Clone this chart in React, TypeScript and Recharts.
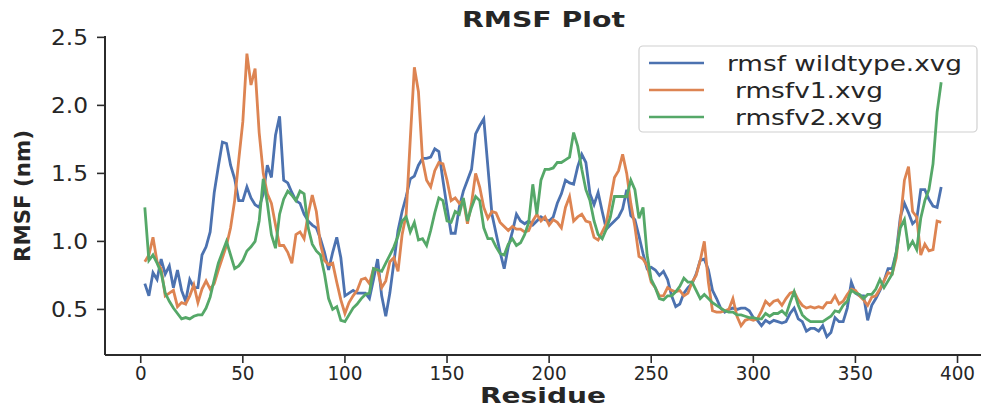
import React from "react";
import { LineChart, Line, XAxis, YAxis, Customized } from "recharts";

// Residue numbers (x categories), every second residue from 2 to 392
const RESIDUES: number[] = Array.from({ length: 196 }, (_, i) => 2 + 2 * i);

const WILDTYPE: number[] = [
  0.69, 0.60, 0.77, 0.72, 0.87, 0.76, 0.82, 0.66, 0.79, 0.64,
  0.56, 0.72, 0.66, 0.66, 0.90, 0.96, 1.07, 1.36, 1.55, 1.73,
  1.72, 1.56, 1.46, 1.30, 1.30, 1.40, 1.32, 1.27, 1.25, 1.35,
  1.56, 1.47, 1.78, 1.92, 1.45, 1.43, 1.36, 1.30, 1.28, 1.20,
  1.15, 1.12, 1.10, 1.02, 0.92, 0.79, 0.92, 1.03, 0.88, 0.60,
  0.62, 0.64, 0.62, 0.62, 0.62, 0.58, 0.72, 0.87, 0.60, 0.45,
  0.62, 0.85, 1.08, 1.22, 1.33, 1.46, 1.48, 1.56, 1.61, 1.61,
  1.62, 1.68, 1.66, 1.45, 1.25, 1.06, 1.06, 1.25, 1.37, 1.45,
  1.53, 1.79, 1.85, 1.90, 1.55, 1.20, 1.06, 0.92, 0.80, 0.96,
  1.07, 1.20, 1.15, 1.13, 1.15, 1.12, 1.15, 1.18, 1.16, 1.15,
  1.18, 1.28, 1.35, 1.45, 1.43, 1.42, 1.55, 1.64, 1.58, 1.35,
  1.27, 1.36, 1.22, 1.09, 1.12, 1.15, 1.18, 1.24, 1.38, 1.19,
  1.16, 1.04, 0.91, 0.80, 0.81, 0.79, 0.75, 0.78, 0.72, 0.60,
  0.52, 0.54, 0.62, 0.66, 0.69, 0.76, 0.86, 0.87, 0.79, 0.64,
  0.58, 0.51, 0.48, 0.50, 0.51, 0.50, 0.51, 0.51, 0.49, 0.44,
  0.42, 0.38, 0.42, 0.40, 0.42, 0.41, 0.40, 0.41, 0.47, 0.51,
  0.43, 0.41, 0.34, 0.36, 0.36, 0.34, 0.38, 0.30, 0.33, 0.44,
  0.41, 0.41, 0.51, 0.70, 0.62, 0.60, 0.60, 0.42, 0.53, 0.58,
  0.64, 0.71, 0.80, 0.80, 0.92, 1.18, 1.28, 1.21, 1.13, 1.16,
  1.38, 1.38, 1.31, 1.26, 1.25, 1.40,
];

const V1: number[] = [
  0.85, 0.90, 1.03, 0.85, 0.80, 0.60, 0.62, 0.64, 0.52, 0.55,
  0.54, 0.60, 0.68, 0.55, 0.65, 0.71, 0.65, 0.69, 0.79, 0.88,
  0.97, 1.10, 1.30, 1.60, 1.88, 2.38, 2.15, 2.27, 1.80, 1.50,
  1.35, 1.28, 1.12, 0.97, 0.97, 0.92, 0.84, 1.05, 1.07, 1.02,
  1.20, 1.34, 1.22, 0.98, 0.86, 0.83, 0.84, 0.70, 0.57, 0.47,
  0.55, 0.60, 0.64, 0.72, 0.73, 0.69, 0.80, 0.79, 0.66, 0.71,
  0.85, 0.88, 0.78, 1.05, 1.20, 1.75, 2.28, 2.10, 1.60, 1.45,
  1.40, 1.52, 1.58, 1.57, 1.45, 1.30, 1.32, 1.28, 1.30, 1.13,
  1.28, 1.50, 1.40, 1.25, 1.17, 1.22, 1.21, 1.14, 1.11, 1.08,
  1.11, 1.09, 1.09, 1.07, 1.08, 1.15, 1.20, 1.15, 1.18, 1.12,
  1.16, 1.14, 1.10, 1.25, 1.33, 1.15, 1.18, 1.20, 1.15, 1.14,
  1.03, 1.01, 1.07, 1.13, 1.30, 1.47, 1.52, 1.64, 1.50, 1.28,
  1.11, 0.89, 0.87, 0.82, 0.70, 0.66, 0.60, 0.60, 0.66, 0.64,
  0.63, 0.64, 0.60, 0.62, 0.70, 0.75, 0.86, 1.00, 0.70, 0.49,
  0.48, 0.48, 0.49, 0.50, 0.58, 0.45, 0.38, 0.42, 0.43, 0.42,
  0.43, 0.49, 0.56, 0.53, 0.56, 0.57, 0.53, 0.58, 0.62, 0.63,
  0.57, 0.53, 0.51, 0.52, 0.51, 0.52, 0.51, 0.55, 0.55, 0.60,
  0.54, 0.56, 0.61, 0.65, 0.64, 0.60, 0.57, 0.53, 0.59, 0.60,
  0.65, 0.71, 0.77, 0.76, 0.88, 1.15, 1.45, 1.55, 1.22, 1.18,
  0.90, 0.98, 0.93, 0.94, 1.15, 1.14,
];

const V2: number[] = [
  1.25, 0.86, 0.90, 0.84, 0.77, 0.62, 0.56, 0.51, 0.47, 0.43,
  0.44, 0.43, 0.45, 0.46, 0.46, 0.51, 0.59, 0.72, 0.84, 0.92,
  1.00, 0.90, 0.80, 0.82, 0.86, 0.93, 0.96, 1.00, 1.15, 1.46,
  1.28, 1.05, 0.95, 1.20, 1.31, 1.37, 1.34, 1.30, 1.37, 1.35,
  1.10, 0.98, 0.93, 0.90, 0.76, 0.58, 0.50, 0.52, 0.42, 0.41,
  0.46, 0.51, 0.54, 0.58, 0.61, 0.62, 0.80, 0.79, 0.78, 0.84,
  0.90, 0.96, 1.04, 1.15, 1.18, 1.07, 1.14, 1.01, 1.02, 0.97,
  1.08, 1.21, 1.32, 1.30, 1.15, 1.14, 1.22, 1.20, 1.32, 1.15,
  1.25, 1.33, 1.30, 1.10, 1.02, 1.02, 0.96, 0.91, 0.90, 0.98,
  1.02, 0.97, 0.99, 1.05, 1.14, 1.42, 1.20, 1.45, 1.53, 1.53,
  1.54, 1.58, 1.58, 1.60, 1.62, 1.80, 1.70, 1.53, 1.38, 1.30,
  1.15, 1.05, 1.02, 1.09, 1.18, 1.33, 1.33, 1.33, 1.33, 1.45,
  1.38, 1.17, 1.25, 0.90, 0.72, 0.66, 0.58, 0.57, 0.60, 0.60,
  0.63, 0.67, 0.73, 0.70, 0.70, 0.64, 0.58, 0.61, 0.58, 0.55,
  0.53, 0.51, 0.49, 0.48, 0.48, 0.46, 0.46, 0.45, 0.44, 0.44,
  0.43, 0.43, 0.47, 0.45, 0.47, 0.47, 0.49, 0.46, 0.55, 0.63,
  0.53, 0.46, 0.43, 0.41, 0.41, 0.41, 0.41, 0.43, 0.45, 0.49,
  0.48, 0.53, 0.56, 0.64, 0.62, 0.61, 0.58, 0.61, 0.61, 0.65,
  0.72, 0.66, 0.71, 0.76, 0.92, 1.10, 1.16, 0.95, 1.00, 0.94,
  1.17, 1.30, 1.38, 1.57, 1.95, 2.17,
];

const X_TICKS: number[] = [0, 50, 100, 150, 200, 250, 300, 350, 400];
const Y_TICKS: number[] = [0.5, 1.0, 1.5, 2.0, 2.5];

const SERIES = [
  { key: "wt", name: "rmsf wildtype.xvg", color: "#4C72B0", values: WILDTYPE },
  { key: "v1", name: " rmsfv1.xvg", color: "#DD8452", values: V1 },
  { key: "v2", name: " rmsfv2.xvg", color: "#55A868", values: V2 },
];

const data = RESIDUES.map((r, i) => ({
  residue: r,
  wt: WILDTYPE[i],
  v1: V1[i],
  v2: V2[i],
}));

const FONT = "'DejaVu Sans', Verdana, sans-serif";
const INK = "#262626";
const AXIS = "#2b2b2b";

const XTick = (props: any) => {
  const { x, payload } = props;
  const label = String(payload.value);
  const w = 11.7 * label.length;
  return (
    <text
      x={x - w / 2}
      y={379.5}
      fontFamily={FONT}
      fontSize={20}
      fill={INK}
      textLength={w}
      lengthAdjust="spacingAndGlyphs"
    >
      {label}
    </text>
  );
};

const YTick = (props: any) => {
  const { y, payload } = props;
  const label = Number(payload.value).toFixed(1);
  return (
    <text
      x={51}
      y={y + 7.5}
      fontFamily={FONT}
      fontSize={21}
      fill={INK}
      textLength={37}
      lengthAdjust="spacingAndGlyphs"
    >
      {label}
    </text>
  );
};

const Decorations = () => {
  const rows = [63, 90, 117];
  return (
    <g>
      <text
        x={462}
        y={27}
        fontFamily={FONT}
        fontSize={22}
        fontWeight="bold"
        fill={INK}
        textLength={163}
        lengthAdjust="spacingAndGlyphs"
      >
        RMSF Plot
      </text>
      <text
        x={480}
        y={403}
        fontFamily={FONT}
        fontSize={20.5}
        fontWeight="bold"
        fill={INK}
        textLength={126}
        lengthAdjust="spacingAndGlyphs"
      >
        Residue
      </text>
      <text
        x={0}
        y={0}
        transform="translate(29.5,262) rotate(-90)"
        fontFamily={FONT}
        fontSize={22}
        fontWeight="bold"
        fill={INK}
        textLength={132}
        lengthAdjust="spacingAndGlyphs"
      >
        RMSF (nm)
      </text>
      <rect
        x={639}
        y={46}
        width={338}
        height={86}
        rx={4}
        ry={4}
        fill="rgba(255,255,255,0.8)"
        stroke="#d0d0d0"
        strokeWidth={1.2}
      />
      {SERIES.map((s, i) => {
        const label = s.name.trim();
        const lead = s.name.startsWith(" ");
        const w = lead ? 148 : 235;
        return (
          <g key={s.key}>
            <line x1={649} x2={704} y1={rows[i]} y2={rows[i]} stroke={s.color} strokeWidth={2.5} />
            <text
              x={lead ? 735 : 727}
              y={rows[i] + 7.5}
              fontFamily={FONT}
              fontSize={21}
              fill={INK}
              textLength={w}
              lengthAdjust="spacingAndGlyphs"
            >
              {label}
            </text>
          </g>
        );
      })}
    </g>
  );
};

export default function App() {
  return (
    <div style={{ position: "absolute", left: 0, top: 0, width: 990, height: 408, background: "#fff" }}>
      <LineChart
        width={990}
        height={408}
        data={data}
        margin={{ top: 36, right: 9, bottom: 23, left: 0 }}
      >
        <XAxis
          dataKey="residue"
          type="number"
          domain={[-17.5, 411.5]}
          ticks={X_TICKS}
          allowDataOverflow
          height={30}
          tick={<XTick />}
          tickSize={8}
          tickLine={{ stroke: AXIS, strokeWidth: 1.6 }}
          axisLine={{ stroke: AXIS, strokeWidth: 2 }}
        />
        <YAxis
          type="number"
          domain={[0.165, 2.51]}
          ticks={Y_TICKS}
          allowDataOverflow
          width={105}
          tick={<YTick />}
          tickSize={8}
          tickLine={{ stroke: AXIS, strokeWidth: 1.6 }}
          axisLine={{ stroke: AXIS, strokeWidth: 2 }}
        />
        {SERIES.map((s) => (
          <Line
            key={s.key}
            type="linear"
            dataKey={s.key}
            name={s.name}
            stroke={s.color}
            strokeWidth={2.8}
            dot={false}
            activeDot={false}
            isAnimationActive={false}
          />
        ))}
        <Customized component={Decorations} />
      </LineChart>
    </div>
  );
}
